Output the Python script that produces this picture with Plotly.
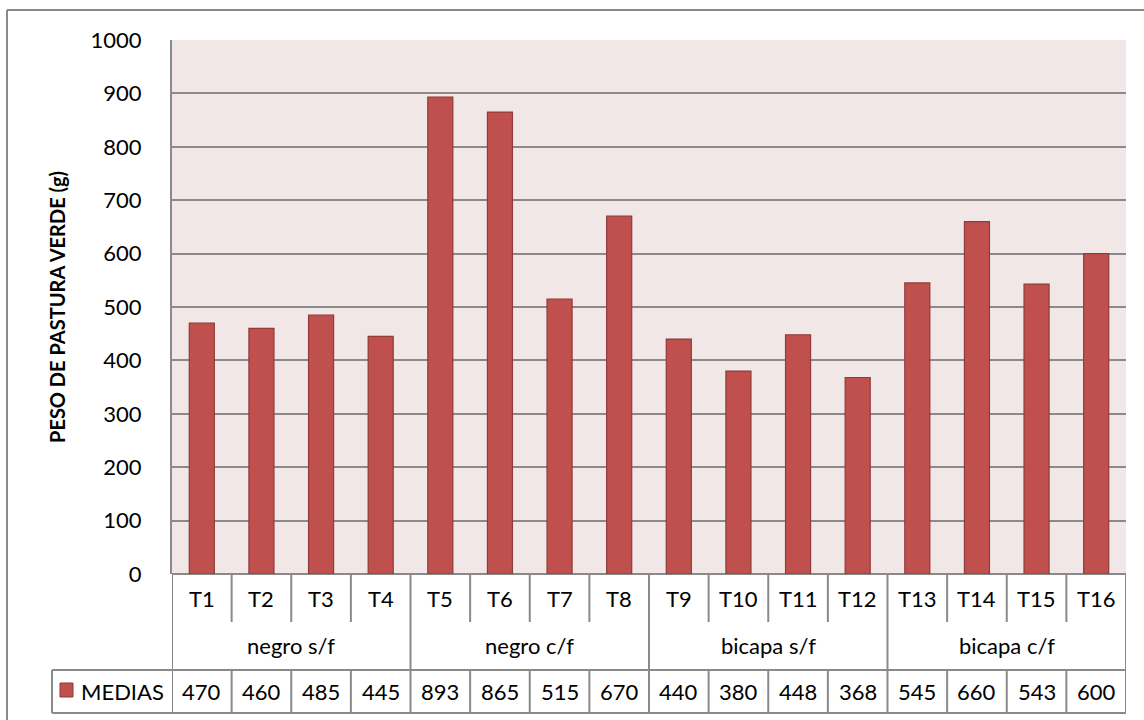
import plotly.graph_objects as go

# Treatments, their groups and mean green pasture weights (g)
treatments = ["T1", "T2", "T3", "T4", "T5", "T6", "T7", "T8",
              "T9", "T10", "T11", "T12", "T13", "T14", "T15", "T16"]
groups = ["negro s/f", "negro c/f", "bicapa s/f", "bicapa c/f"]
group_size = 4
medias = [470, 460, 485, 445, 893, 865, 515, 670,
          440, 380, 448, 368, 545, 660, 543, 600]
series_name = "MEDIAS"
y_ticks = [0, 100, 200, 300, 400, 500, 600, 700, 800, 900, 1000]
y_title = "PESO DE PASTURA VERDE (g)"

W, H = 1144, 720
L, R, T, B = 172, 18, 40, 146
PLOT_W = W - L - R
PLOT_H = H - T - B

FONT = "Lato"
BAR = "#C0504D"
BAR_EDGE = "#8E3B39"
GRID = "#8A8A8A"
TEXT = "#000000"


def py(p):
    """pixel row -> paper y"""
    return (H - B - p) / PLOT_H


def px(p):
    """pixel column -> paper x"""
    return (p - L) / PLOT_W


row_t = (574, 622)      # treatment labels row
row_g = (622, 670)      # group labels row
row_d = (670, 713)      # data table row
legend_left = 52

fig = go.Figure(go.Bar(
    x=treatments, y=medias, name=series_name,
    marker=dict(color=BAR, line=dict(color=BAR_EDGE, width=1.2)),
))

shapes = []
line_style = dict(color=GRID, width=2)
n = len(treatments)

# vertical separators of the category table
for i in range(n + 1):
    xb = i - 0.5
    is_group_edge = (i % group_size == 0)
    y_end = row_g[1] if is_group_edge else row_t[1]
    shapes.append(dict(type="line", xref="x", yref="paper",
                       x0=xb, x1=xb, y0=py(row_t[0]), y1=py(y_end),
                       line=line_style))
    shapes.append(dict(type="line", xref="x", yref="paper",
                       x0=xb, x1=xb, y0=py(row_d[0]), y1=py(row_d[1]),
                       line=line_style))

# horizontal rules of the data row and legend cell
for yy in row_d:
    shapes.append(dict(type="line", xref="paper", yref="paper",
                       x0=px(legend_left), x1=1, y0=py(yy), y1=py(yy),
                       line=line_style))
shapes.append(dict(type="line", xref="paper", yref="paper",
                   x0=px(legend_left), x1=px(legend_left),
                   y0=py(row_d[0]), y1=py(row_d[1]), line=line_style))

# legend key
shapes.append(dict(type="rect", xref="paper", yref="paper",
                   x0=px(60), x1=px(73), y0=py(697), y1=py(683),
                   fillcolor=BAR, line=dict(color=BAR_EDGE, width=1)))

# chart frame
shapes.append(dict(type="line", xref="paper", yref="paper",
                   x0=px(7), x1=px(W + 5), y0=py(10), y1=py(10),
                   line=dict(color=GRID, width=2)))
shapes.append(dict(type="line", xref="paper", yref="paper",
                   x0=px(7), x1=px(7), y0=py(10), y1=py(H + 5),
                   line=dict(color=GRID, width=2)))

annotations = []
font = dict(family=FONT, size=22, color=TEXT)
for i, (t, v) in enumerate(zip(treatments, medias)):
    annotations.append(dict(x=i, y=py(sum(row_t) / 2), xref="x", yref="paper",
                            text=t, showarrow=False, font=font,
                            xanchor="center", yanchor="middle"))
    annotations.append(dict(x=i, y=py(sum(row_d) / 2), xref="x", yref="paper",
                            text=str(v), showarrow=False, font=font,
                            xanchor="center", yanchor="middle"))
for g, name in enumerate(groups):
    annotations.append(dict(x=g * group_size + (group_size - 1) / 2,
                            y=py(sum(row_g) / 2), xref="x", yref="paper",
                            text=name, showarrow=False, font=font,
                            xanchor="center", yanchor="middle"))
annotations.append(dict(x=px(79), y=py(sum(row_d) / 2), xref="paper", yref="paper",
                        text=series_name, showarrow=False, font=font,
                        xanchor="left", yanchor="middle"))
annotations.append(dict(x=px(57), y=0.5, xref="paper", yref="paper",
                        text="<b>" + y_title + "</b>", textangle=-90,
                        showarrow=False, font=dict(family=FONT, size=20, color=TEXT),
                        xanchor="center", yanchor="middle"))

fig.update_layout(
    width=W, height=H, autosize=False,
    margin=dict(l=L, r=R, t=T, b=B, pad=0),
    paper_bgcolor="white", plot_bgcolor="#F2E7E7",
    bargap=0.58, showlegend=False,
    shapes=shapes, annotations=annotations,
    font=dict(family=FONT, color=TEXT),
)
fig.update_xaxes(range=[-0.5, n - 0.5], showticklabels=False, showgrid=False,
                 zeroline=False, showline=False, fixedrange=True)
fig.update_yaxes(range=[0, 1000], tickvals=y_ticks, ticks="",
                 tickfont=dict(family=FONT, size=22, color=TEXT),
                 ticklabelstandoff=24,
                 showgrid=True, gridcolor=GRID, gridwidth=2,
                 zeroline=True, zerolinecolor=GRID, zerolinewidth=2,
                 showline=True, linecolor=GRID, linewidth=2, fixedrange=True)

fig.write_html("out.html")
